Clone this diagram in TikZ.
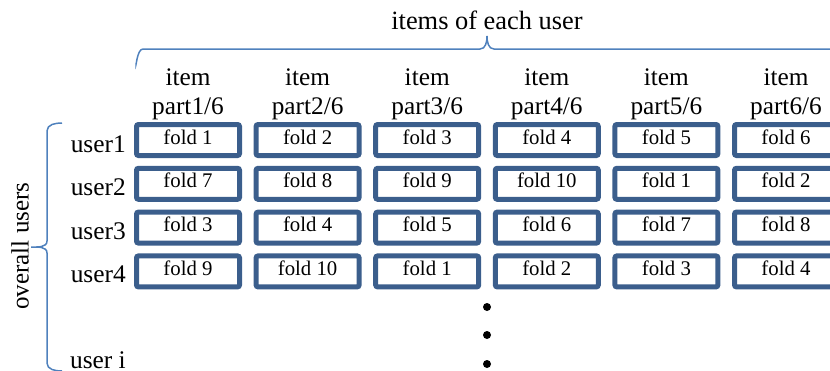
\documentclass[tikz,border=0pt]{standalone}
\usepackage{fontspec}
\setmainfont{Liberation Serif}
\definecolor{foldblue}{RGB}{59,94,140}
\definecolor{braceblue}{RGB}{79,129,189}
\begin{document}
\begin{tikzpicture}[x=1pt,y=-1pt,
  foldbox/.style={draw=foldblue, line width=5pt, rounded corners=2pt,
    minimum width=103pt, minimum height=31pt, inner sep=0pt,
    text height=14pt, text depth=6pt, font=\fontsize{20.8}{21}\selectfont},
  colhead/.style={align=center, inner sep=0pt, anchor=base,
    font=\fontsize{25.3}{29}\selectfont},
  userlab/.style={anchor=base east, inner sep=0pt, font=\fontsize{25.4}{26}\selectfont},
  toptitle/.style={anchor=base, inner sep=0pt, font=\fontsize{26.4}{27}\selectfont},
  curly/.style={draw=braceblue, line width=1.5pt},
  dot/.style={circle, fill=black, inner sep=0pt, minimum size=8pt}]
\useasboundingbox (0,0) rectangle (830,370);

% grid of folds: row r, column c gets fold ((r-1)*6+c-1 mod 10)+1
\foreach \r in {1,...,4}{
  \foreach \c in {1,...,6}{
    \pgfmathtruncatemacro\k{mod((\r-1)*6+\c-1,10)+1}
    \node[foldbox] (f\r\c) at ({188+(\c-1)*119.6},{140+(\r-1)*43.8}) {fold \k};
  }
}

% column headers (base anchor sits on the last line)
\foreach \c in {1,...,6}{
  \node[colhead] (h\c) at ({188+(\c-1)*119.6},114) {item\\part\c/6};
}

% row labels
\foreach \r in {1,...,4}{
  \node[userlab] (u\r) at (126,{152+(\r-1)*43.5}) {user\r};
}
\node[userlab] (ui) at (126,368) {user i};

% title and braces
\node[toptitle] (title) at (487,29) {items of each user};
\draw[curly] (136,63) to[out=-90,in=180] (143,49) -- (480,49)
  to[out=0,in=-90] (487,36) to[out=-90,in=180] (494,49) -- (831,49)
  to[out=0,in=-90] (838,63);
\draw[curly] (62,123) to[out=180,in=90] (47,131) -- (47,241)
  to[out=-90,in=0] (31,247) to[out=0,in=90] (47,253) -- (47,363)
  to[out=-90,in=180] (62,371);
\node[rotate=90, inner sep=0pt, font=\fontsize{25}{27}\selectfont] (ov) at (20,246) {overall users};

% continuation dots
\node[dot] (d1) at (487,307) {};
\node[dot] (d2) at (487,335) {};
\node[dot] (d3) at (487,364) {};
\end{tikzpicture}
\end{document}
